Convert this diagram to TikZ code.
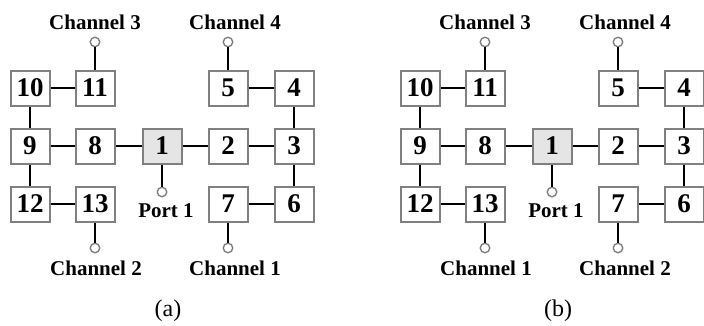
\documentclass[tikz,border=0pt]{standalone}
\usepackage{fontspec}
\setmainfont{Liberation Serif}
\newcommand{\boxLine}{gray}
\newcommand{\feedFill}{gray!20}

\tikzset{
    res/.style={draw=\boxLine, line width=2pt, fill=white, minimum width=39pt, minimum height=35pt,
        inner sep=0pt, font=\fontsize{27}{27}\selectfont\bfseries},
    feed/.style={res, fill=\feedFill},
    port/.style={circle, draw=\boxLine, line width=1.4pt, fill=white, minimum size=9.5pt, inner sep=0pt},
    lbl/.style={font=\fontsize{21}{21}\selectfont\bfseries, inner sep=0pt},
    captext/.style={font=\fontsize{24}{24}\selectfont, inner sep=0pt},
    link/.style={line width=1.6pt}
}

% one filter layout: #1 lower left channel, #2 lower right channel, #3 caption
\newcommand{\filterPanel}[3]{
    \node[res] (r10) at (30,88) {10};
    \node[res] (r11) at (95,88) {11};
    \node[res] (r5) at (228,88) {5};
    \node[res] (r4) at (294,88) {4};
    \node[res] (r9) at (30,146) {9};
    \node[res] (r8) at (95,146) {8};
    \node[feed] (r1) at (162,146) {1};
    \node[res] (r2) at (228,146) {2};
    \node[res] (r3) at (294,146) {3};
    \node[res] (r12) at (30,204) {12};
    \node[res] (r13) at (95,204) {13};
    \node[res] (r7) at (228,204) {7};
    \node[res] (r6) at (294,204) {6};
    % ports
    \node[port] (pUL) at (95,42) {};
    \node[port] (pUR) at (228,42) {};
    \node[port] (pIn) at (162,192) {};
    \node[port] (pLL) at (95,248) {};
    \node[port] (pLR) at (228,248) {};
    \node[lbl] (lUL) at (95,22) {Channel 3};
    \node[lbl] (lUR) at (235,22) {Channel 4};
    \node[lbl] (lIn) at (166,211) {Port 1};
    \node[lbl] (lLL) at (96,268) {#1};
    \node[lbl] (lLR) at (235,268) {#2};
    \node[captext] (cap) at (168,311) {#3};
    % couplings
    \draw[link] (r10) -- (r11);
    \draw[link] (r5) -- (r4);
    \draw[link] (r9) -- (r8);
    \draw[link] (r8) -- (r1);
    \draw[link] (r1) -- (r2);
    \draw[link] (r2) -- (r3);
    \draw[link] (r12) -- (r13);
    \draw[link] (r7) -- (r6);
    \draw[link] (r10) -- (r9);
    \draw[link] (r9) -- (r12);
    \draw[link] (r4) -- (r3);
    \draw[link] (r3) -- (r6);
    \draw[link] (r11) -- (pUL);
    \draw[link] (r5) -- (pUR);
    \draw[link] (r1) -- (pIn);
    \draw[link] (r13) -- (pLL);
    \draw[link] (r7) -- (pLR);
}

\begin{document}
\begin{tikzpicture}[x=1pt, y=-1pt]
    \useasboundingbox (0,0) rectangle (704,325);
    \begin{scope}[name prefix=a-]
        \filterPanel{Channel 2}{Channel 1}{(a)}
    \end{scope}
    \begin{scope}[xshift=390pt, name prefix=b-]
        \filterPanel{Channel 1}{Channel 2}{(b)}
    \end{scope}
\end{tikzpicture}
\end{document}
